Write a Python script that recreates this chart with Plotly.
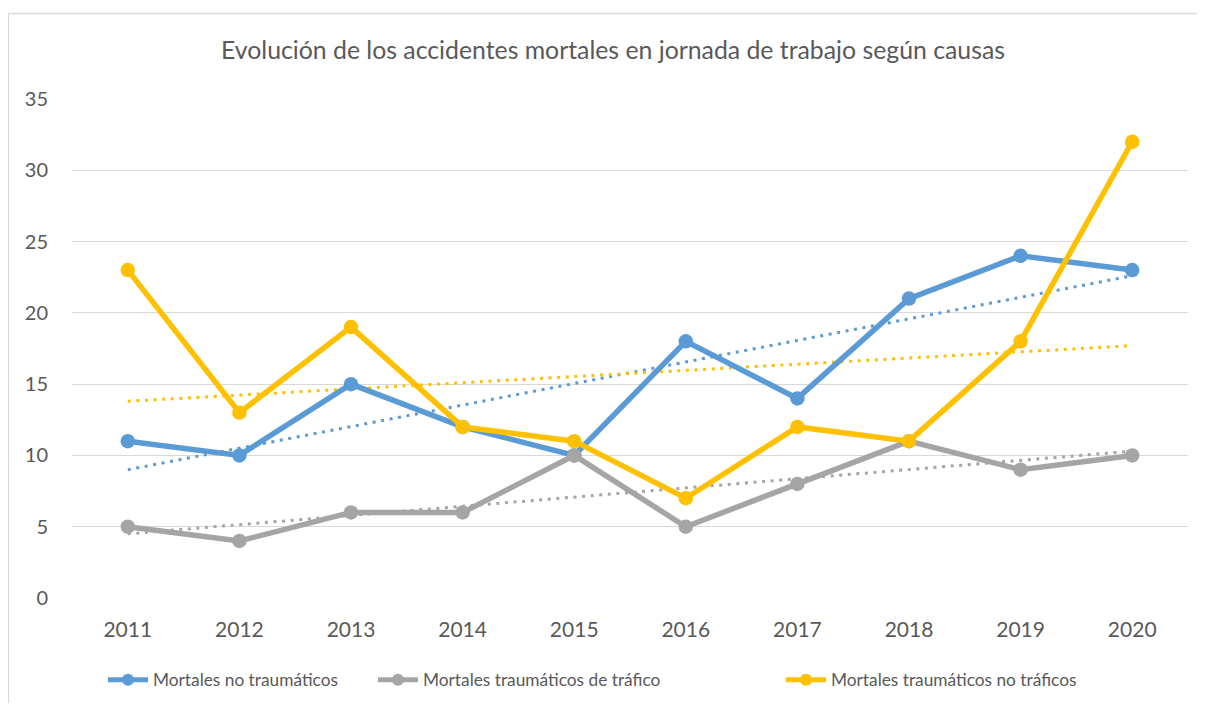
import plotly.graph_objects as go

years = ["2011", "2012", "2013", "2014", "2015", "2016", "2017", "2018", "2019", "2020"]
no_traumaticos = [11, 10, 15, 12, 10, 18, 14, 21, 24, 23]
trafico = [5, 4, 6, 6, 10, 5, 8, 11, 9, 10]
no_trafico = [23, 13, 19, 12, 11, 7, 12, 11, 18, 32]

# trend lines (start/end values)
trend_no_traumaticos = [9.0, 22.6]
trend_trafico = [4.5, 10.3]
trend_no_trafico = [13.8, 17.7]

names = ["Mortales no traumáticos", "Mortales traumáticos de tráfico", "Mortales traumáticos no tráficos"]
colors = ["#5B9BD5", "#A5A5A5", "#FFC000"]
series = [no_traumaticos, trafico, no_trafico]
trends = [trend_no_traumaticos, trend_trafico, trend_no_trafico]
legend_ids = ["legend", "legend2", "legend3"]

FONT = "Lato"
TXT = "#595959"

# the page adds an 8px body margin; work in figure coordinates = screen - 8
OFF = 8
W, H = 1205 - 2 * OFF, 711 - 2 * OFF
L, T = 72 - OFF, 99 - OFF
R, B = W - (1188 - OFF), H - (598 - OFF)
pw, ph = W - L - R, H - T - B

fig = go.Figure()
for name, col, tr in zip(names, colors, trends):
    fig.add_trace(go.Scatter(
        x=[years[0], years[-1]], y=tr, mode="lines",
        line=dict(color=col, width=3, dash="3px,5.6px"),
        showlegend=False, hoverinfo="skip"))
for name, col, s, lg in zip(names, colors, series, legend_ids):
    fig.add_trace(go.Scatter(
        x=years, y=s, name=name, mode="lines+markers", legend=lg,
        line=dict(color=col, width=5.5),
        marker=dict(color=col, size=14.5)))

# legend text left edges (screen px) in the reference
legend_text_x = [155, 425, 833]
legend_defs = {}
for lg, tx in zip(legend_ids, legend_text_x):
    legend_defs[lg] = dict(
        orientation="h", xref="container", yref="container",
        x=(tx - OFF - 52) / W, xanchor="left",
        y=1 - (680 - OFF) / H, yanchor="middle",
        font=dict(size=17.3, color=TXT, family=FONT), itemwidth=40,
        itemsizing="constant", bgcolor="rgba(0,0,0,0)")

def px_x(sx):
    return (sx - 72) / pw

def px_y(sy):
    return (598 - sy) / ph

border = dict(color="#D9D9D9", width=1.3)

fig.update_layout(
    width=W, height=H,
    margin=dict(l=L, r=R, t=T, b=B, autoexpand=False),
    paper_bgcolor="white", plot_bgcolor="white",
    font=dict(family=FONT, color=TXT, size=17),
    title=dict(text="Evolución de los accidentes mortales en jornada de trabajo según causas",
               x=(613 - OFF) / W, xanchor="center", y=1 - (50 - OFF) / H, yanchor="middle",
               font=dict(size=24.8, color=TXT, family=FONT)),
    xaxis=dict(type="category", categoryorder="array", categoryarray=years,
               range=[-0.5, 9.5], showgrid=False, zeroline=False,
               showline=False, ticks="", tickfont=dict(size=21, color=TXT),
               ticklabelstandoff=17),
    yaxis=dict(range=[0, 35], dtick=5, showgrid=True, gridcolor="#D9D9D9", gridwidth=1.3,
               zeroline=False, showline=False, ticks="", tickfont=dict(size=20, color=TXT),
               ticklabelstandoff=23),
    shapes=[
        dict(type="line", xref="paper", yref="paper",
             x0=px_x(8.5), x1=px_x(1230), y0=px_y(13.5), y1=px_y(13.5), line=border, layer="below"),
        dict(type="line", xref="paper", yref="paper",
             x0=px_x(8.5), x1=px_x(8.5), y0=px_y(13.5), y1=px_y(740), line=border, layer="below"),
    ],
    **legend_defs,
)

fig.write_html("out.html")
